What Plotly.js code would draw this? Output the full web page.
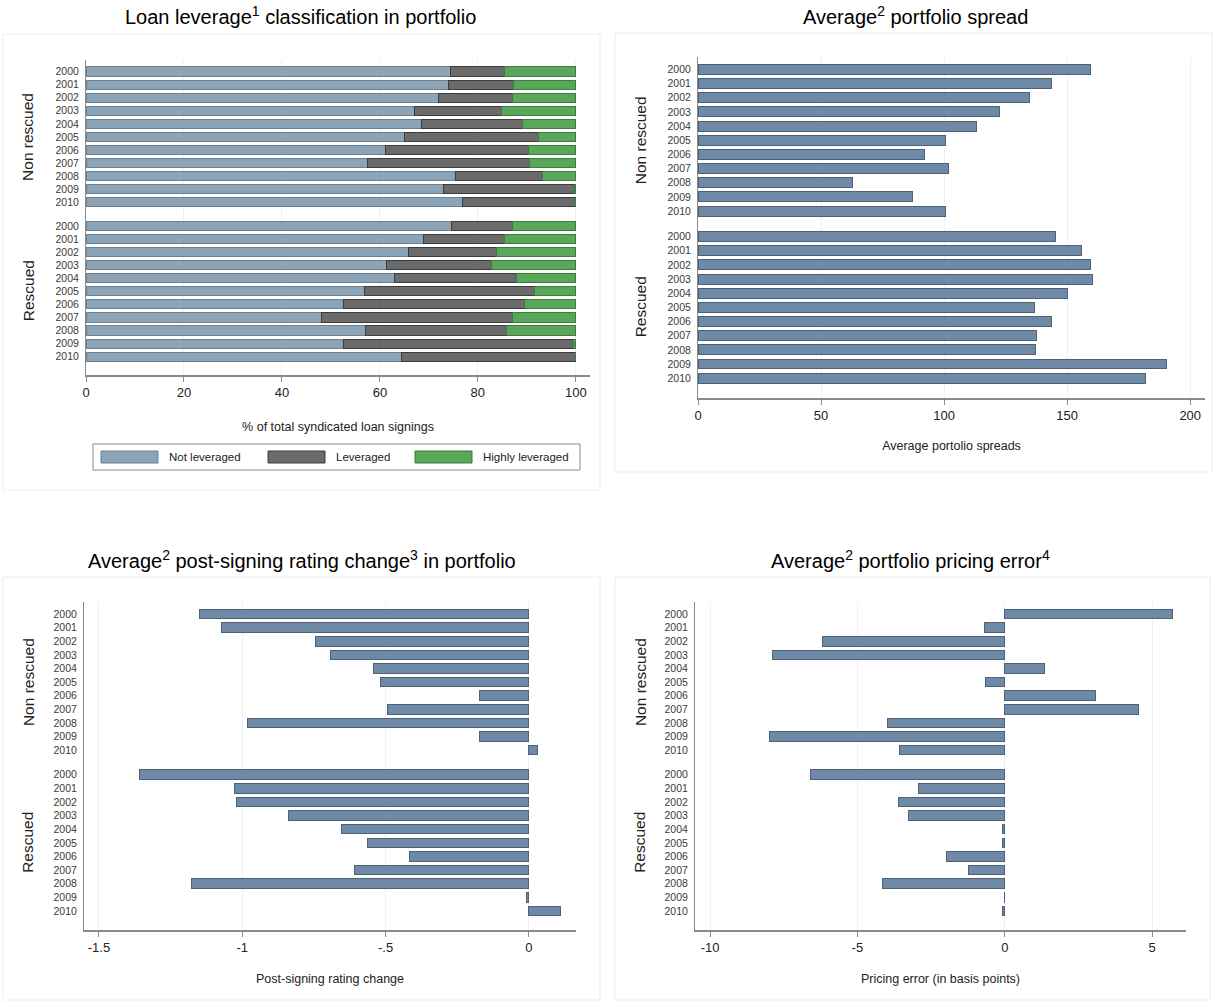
<!DOCTYPE html>
<html>
<head>
<meta charset="utf-8">
<script src="https://cdn.plot.ly/plotly-3.0.1.min.js"></script>
<style>html,body{margin:0;padding:0;background:#fff;}#chart{width:1213px;height:1002px;}</style>
</head>
<body>
<div id="chart"></div>
<script>
// ---------- data ----------
const years = ['2000','2001','2002','2003','2004','2005','2006','2007','2008','2009','2010'];
const groups = ['Non rescued', 'Rescued'];

// Panel 1: loan leverage classification (% of total syndicated loan signings)
const nonRescNotLev   = [74.5, 74.0, 72.0, 67.0, 68.4, 65.0, 61.1, 57.4, 75.4, 73.0, 76.8];
const nonRescLev      = [11.0, 13.3, 15.1, 17.9, 20.8, 27.4, 29.2, 33.1, 17.8, 26.8, 23.2];
const nonRescHighLev  = [14.5, 12.7, 12.9, 15.1, 10.8,  7.6,  9.7,  9.5,  6.8,  0.2,  0.0];
const rescNotLev      = [74.6, 69.0, 65.8, 61.3, 62.9, 56.9, 52.5, 48.0, 57.0, 52.6, 64.5];
const rescLev         = [12.5, 16.5, 18.0, 21.4, 25.0, 34.7, 37.0, 39.1, 28.8, 46.9, 35.5];
const rescHighLev     = [12.9, 14.5, 16.2, 17.3, 12.1,  8.4, 10.5, 12.9, 14.2,  0.5,  0.0];

// Panel 2: average portfolio spread
const nonRescSpread = [159.6, 143.7, 134.6, 122.5, 113.0, 100.5, 91.9, 101.7, 62.9, 87.2, 100.6];
const rescSpread    = [145.2, 155.9, 159.5, 160.4, 150.2, 136.6, 143.5, 137.4, 137.2, 190.3, 182.0];

// Panel 3: average post-signing rating change
const nonRescRating = [-1.149, -1.073, -0.745, -0.691, -0.544, -0.517, -0.171, -0.493, -0.982, -0.174, 0.031];
const rescRating    = [-1.357, -1.027, -1.020, -0.838, -0.654, -0.562, -0.417, -0.609, -1.176, -0.009, 0.111];

// Panel 4: average portfolio pricing error (bp)
const nonRescPricing = [5.70, -0.69, -6.20, -7.89, 1.34, -0.65, 3.07, 4.54, -3.98, -7.98, -3.56];
const rescPricing    = [-6.59, -2.93, -3.61, -3.26, -0.07, -0.09, -1.98, -1.24, -4.16, -0.01, -0.09];

// tick labels
const ticksP1 = [0, 20, 40, 60, 80, 100];
const ticksP2 = [0, 50, 100, 150, 200];
const ticksP3 = [-1.5, -1, -0.5, 0];
const tickTextP3 = ['-1.5', '-1', '-.5', '0'];
const ticksP4 = [-10, -5, 0, 5];
const tickTextP4 = ['-10', '-5', '0', '5'];

const legendLabels = ['Not leveraged', 'Leveraged', 'Highly leveraged'];

// ---------- layout helpers ----------
const W = 1213, H = 1002;
const GROUP_OFFSET = 11.8;
const posNon = years.map((_, i) => i);
const posResc = years.map((_, i) => i + GROUP_OFFSET);
const allPos = posNon.concat(posResc);
const allYears = years.concat(years);
const px = v => v / W;
const py = v => 1 - v / H;

const FONT = 'Liberation Sans, Arial, sans-serif';
const cNot = '#8da3b6', cNotLine = '#6a8193';
const cLev = '#6b6b6b', cLevLine = '#3c3c3c';
const cHigh = '#5aa65a', cHighLine = '#3b7d3b';
const cBar = '#6e8aa7', cBarLine = '#4d6277';
const BW = 0.7;

function hbar(x, y, xa, ya, fill, line, name) {
  return {type: 'bar', orientation: 'h', x: x, y: y, xaxis: xa, yaxis: ya, name: name,
    width: BW, marker: {color: fill, line: {color: line, width: 1}}, showlegend: false,
    hoverinfo: 'x+name'};
}

const traces = [
  hbar(nonRescNotLev.concat(rescNotLev), allPos, 'x', 'y', cNot, cNotLine, legendLabels[0]),
  hbar(nonRescLev.concat(rescLev), allPos, 'x', 'y', cLev, cLevLine, legendLabels[1]),
  hbar(nonRescHighLev.concat(rescHighLev), allPos, 'x', 'y', cHigh, cHighLine, legendLabels[2]),
  hbar(nonRescSpread.concat(rescSpread), allPos, 'x2', 'y2', cBar, cBarLine, 'Spread'),
  hbar(nonRescRating.concat(rescRating), allPos, 'x3', 'y3', cBar, cBarLine, 'Rating change'),
  hbar(nonRescPricing.concat(rescPricing), allPos, 'x4', 'y4', cBar, cBarLine, 'Pricing error'),
];

function xax(domain, range, anchor, tickvals, ticktext, title, standoff) {
  return {domain: domain, range: range, anchor: anchor, showgrid: true, gridcolor: '#eef1f4', gridwidth: 1,
    zeroline: false, showline: true, linecolor: '#8a8a8a', linewidth: 1.5, ticks: 'outside', ticklen: 5,
    tickcolor: '#8a8a8a', tickfont: {family: FONT, size: 13, color: '#222'},
    tickmode: 'array', tickvals: tickvals, ticktext: ticktext,
    title: {text: title, font: {family: FONT, size: 12.5, color: '#222'}, standoff: standoff}, fixedrange: true};
}
function yax(domain, anchor) {
  return {domain: domain, range: [23.2, -0.88], anchor: anchor, showgrid: false, zeroline: false,
    showline: true, linecolor: '#8a8a8a', linewidth: 1, ticks: 'outside', ticklen: 4,
    tickcolor: 'rgba(0,0,0,0)', tickmode: 'array', tickvals: allPos, ticktext: allYears,
    tickfont: {family: FONT, size: 10.5, color: '#3a3a3a'}, fixedrange: true};
}

const layout = {
  width: W, height: H, margin: {l: 0, r: 0, t: 0, b: 0},
  paper_bgcolor: '#fff', plot_bgcolor: '#fff', showlegend: false, bargap: 0.3, barmode: 'stack',
  xaxis: xax([px(86), px(590)], [0, 102.9], 'y', ticksP1, ticksP1.map(String), '% of total syndicated loan signings', 23),
  yaxis: yax([py(375), py(60)], 'x'),
  xaxis2: xax([px(698), px(1205)], [0, 206], 'y2', ticksP2, ticksP2.map(String), 'Average portolio spreads', 19),
  yaxis2: yax([py(398), py(57)], 'x2'),
  xaxis3: xax([px(84), px(576)], [-1.552, 0.164], 'y3', ticksP3, tickTextP3, 'Post-signing rating change', 20),
  yaxis3: yax([py(930), py(602)], 'x3'),
  xaxis4: xax([px(695), px(1186)], [-10.51, 6.15], 'y4', ticksP4, tickTextP4, 'Pricing error (in basis points)', 20),
  yaxis4: yax([py(930), py(602)], 'x4'),
  shapes: [],
  annotations: []
};

// panel frames
const frames = [[3, 34, 600, 490], [615, 33, 1212, 472], [3, 577, 600, 1000], [615, 577, 1210, 1000]];
frames.forEach(f => layout.shapes.push({type: 'rect', xref: 'paper', yref: 'paper',
  x0: px(f[0]), x1: px(f[2]), y0: py(f[1]), y1: py(f[3]), line: {color: '#ececec', width: 1}, layer: 'below'}));

// titles
const titles = [
  ['Loan leverage<sup>1</sup> classification in portfolio', 300, 16],
  ['Average<sup>2</sup> portfolio spread', 915, 16],
  ['Average<sup>2</sup> post-signing rating change<sup>3</sup> in portfolio', 302, 559],
  ['Average<sup>2</sup> portfolio pricing error<sup>4</sup>', 910, 559],
];
titles.forEach(t => layout.annotations.push({text: t[0], xref: 'paper', yref: 'paper', x: px(t[1]), y: py(t[2]),
  xanchor: 'center', yanchor: 'middle', showarrow: false, font: {family: FONT, size: 20, color: '#000'}}));

// group labels
const gl = [['y', 28], ['y2', 640], ['y3', 28], ['y4', 640]];
gl.forEach(g => {
  [[groups[0], 5], [groups[1], 5 + GROUP_OFFSET]].forEach(item => {
    layout.annotations.push({text: item[0], xref: 'paper', yref: g[0], x: px(g[1]), y: item[1],
      xanchor: 'center', yanchor: 'middle', textangle: -90, showarrow: false,
      font: {family: FONT, size: 15.5, color: '#222'}});
  });
});

// legend for panel 1
layout.shapes.push({type: 'rect', xref: 'paper', yref: 'paper', x0: px(93), x1: px(580), y0: py(444), y1: py(470),
  line: {color: '#8a8a8a', width: 1}, fillcolor: '#fff'});
const legItems = [[101, cNot, cNotLine], [268, cLev, cLevLine], [415, cHigh, cHighLine]];
legItems.forEach((it, i) => {
  layout.shapes.push({type: 'rect', xref: 'paper', yref: 'paper', x0: px(it[0]), x1: px(it[0] + 57),
    y0: py(451), y1: py(463), fillcolor: it[1], line: {color: it[2], width: 1}});
  layout.annotations.push({text: legendLabels[i], xref: 'paper', yref: 'paper', x: px(it[0] + 66), y: py(457),
    xanchor: 'left', yanchor: 'middle', showarrow: false, font: {family: FONT, size: 11.5, color: '#222'}});
});

Plotly.newPlot('chart', traces, layout, {displayModeBar: false, staticPlot: true});
</script>
</body>
</html>
